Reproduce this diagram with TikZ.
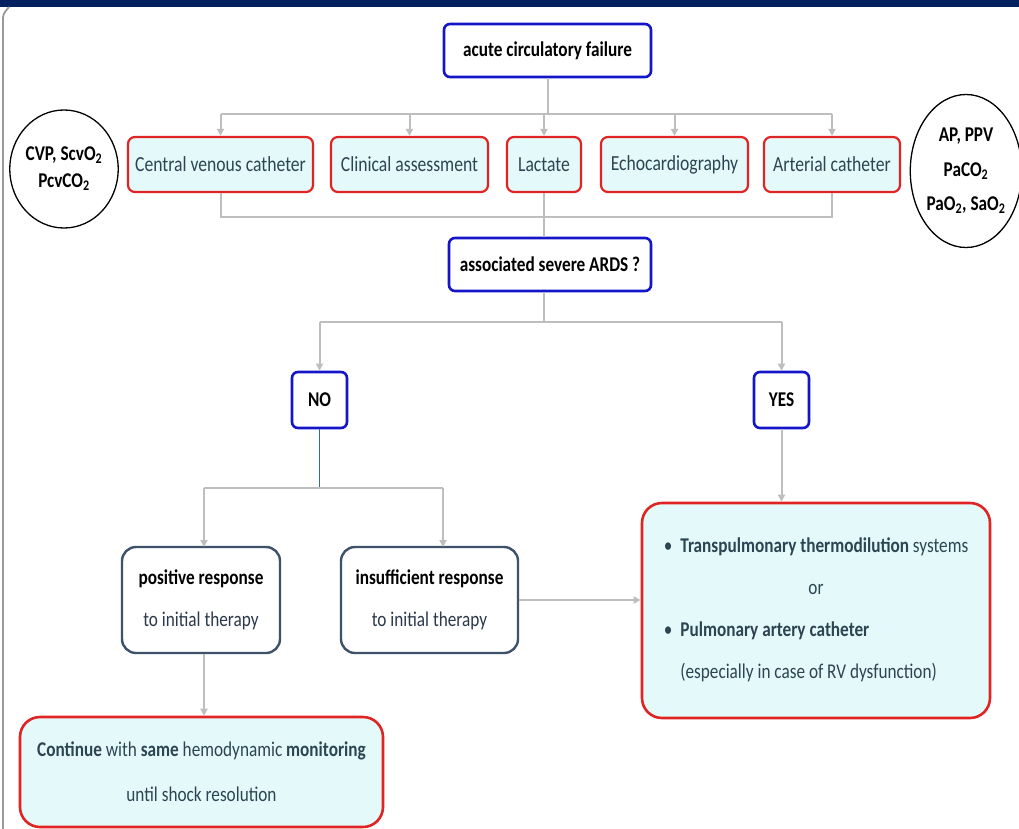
\documentclass[tikz,border=0pt]{standalone}
\usepackage{fontspec}
\setmainfont{Carlito}[FakeStretch=0.82]
\usetikzlibrary{shapes.geometric,arrows.meta,calc}
\definecolor{navy}{HTML}{002060}
\definecolor{bbox}{HTML}{1414C8}
\definecolor{rbox}{HTML}{E02424}
\definecolor{cfill}{HTML}{E4FAFA}
\definecolor{tealtxt}{HTML}{2C4552}
\definecolor{glines}{HTML}{BEBEBE}
\definecolor{slate}{HTML}{3E526A}
\definecolor{noline}{HTML}{2F6DB5}
\tikzset{
  bluebox/.style={draw=bbox, line width=2.6pt, fill=white, rounded corners=6pt, inner sep=0pt, font=\fontsize{21}{25}\selectfont\bfseries, text=black},
  redbox/.style={draw=rbox, line width=2.2pt, fill=cfill, rounded corners=7pt, inner sep=0pt, font=\fontsize{21.5}{25}\selectfont, text=tealtxt},
  bigred/.style={draw=rbox, line width=2.6pt, fill=cfill, rounded corners=20pt, inner sep=0pt, font=\fontsize{21}{25}\selectfont, text=tealtxt},
  slatebox/.style={draw=slate, line width=2.4pt, fill=white, rounded corners=14pt, inner sep=0pt, font=\fontsize{21}{25}\selectfont, text=black, align=center},
  oval/.style={draw=black, line width=1.3pt, ellipse, inner sep=0pt, fill=white, font=\fontsize{21}{24}\selectfont\bfseries, text=black, align=center},
  conn/.style={draw=glines, line width=2pt},
  arr/.style={conn, -{Triangle[width=7pt,length=7pt]}},
}
\begin{document}
\begin{tikzpicture}[x=1pt,y=-1pt]
\useasboundingbox (0,0) rectangle (1019,829);
\fill[white] (0,0) rectangle (1019,829);
\fill[navy] (0,0) rectangle (1019,7);
\draw[gray!80, line width=1.8pt] (3,829) -- (3,22) .. controls (3,14) .. (9,7);

% nodes
\node[bluebox, minimum width=207pt, minimum height=53pt] (acute) at (547.5,50.5) {acute circulatory failure};
\node[redbox, minimum width=185pt, minimum height=55pt] (cvc) at (220.5,164.5) {Central venous catheter};
\node[redbox, minimum width=157pt, minimum height=55pt] (clin) at (409.5,164.5) {Clinical assessment};
\node[redbox, minimum width=74pt, minimum height=55pt] (lact) at (544,164.5) {Lactate};
\node[redbox, minimum width=147pt, minimum height=55pt] (echo) at (674.5,164.5) {Echocardiography};
\node[redbox, minimum width=136pt, minimum height=55pt] (art) at (832,164.5) {Arterial catheter};
\node[oval, minimum width=104pt, minimum height=118pt] (lcirc) at (64,169) {CVP, ScvO\textsubscript{2}\\[3pt]PcvCO\textsubscript{2}};
\node[oval, minimum width=108pt, minimum height=153pt] (rcirc) at (966,171) {AP, PPV\\[11pt]PaCO\textsubscript{2}\\[10pt]PaO\textsubscript{2}, SaO\textsubscript{2}};
\node[bluebox, minimum width=202pt, minimum height=53pt] (ards) at (550,264.5) {associated severe ARDS ?};
\node[bluebox, minimum width=55pt, minimum height=56pt] (no) at (319.5,400) {NO};
\node[bluebox, minimum width=55pt, minimum height=56pt] (yes) at (781.5,400) {YES};
\node[slatebox, minimum width=158pt, minimum height=106pt] (pos) at (201,600) {\textbf{positive response}\\[17pt]\textcolor{slate!70!black}{to initial therapy}};
\node[slatebox, minimum width=177pt, minimum height=106pt] (insuf) at (429.5,600) {\textbf{insufficient response}\\[17pt]\textcolor{slate!70!black}{to initial therapy}};
\node[bigred, minimum width=348pt, minimum height=215pt] (transp) at (816,610.5) {\begin{tabular}{@{}c@{\hspace{8pt}}l@{}}
\textbullet & \textbf{Transpulmonary thermodilution} systems\\[17pt]
\multicolumn{2}{c}{or}\\[17pt]
\textbullet & \textbf{Pulmonary artery catheter}\\[17pt]
 & (especially in case of RV dysfunction)
\end{tabular}};
\node[bigred, minimum width=363pt, minimum height=110pt, align=center] (cont) at (201.5,772) {\textbf{Continue} with \textbf{same} hemodynamic \textbf{monitoring}\\[20pt]until shock resolution};

% connectors
\coordinate (bus1) at (545,114);
\coordinate (bus2) at (545,217);
\draw[conn] (acute.south) -- (acute.south |- bus1);
\draw[conn] (cvc.north |- bus1) -- (art.north |- bus1);
\foreach \n in {cvc,clin,lact,echo,art} \draw[arr] (\n.north |- bus1) -- (\n.north);
\draw[conn] (cvc.south) -- (cvc.south |- bus2) -- (art.south |- bus2) -- (art.south);
\draw[conn] (lact.south) -- (lact.south |- ards.north);

\coordinate (bus3) at (545,322);
\draw[conn] (ards.south -| lact.south) -- (lact.south |- bus3);
\draw[conn] (no.north |- bus3) -- (yes.north |- bus3);
\draw[arr] (no.north |- bus3) -- (no.north);
\draw[arr] (yes.north |- bus3) -- (yes.north);

\coordinate (bus4) at (320,488);
\coordinate (pin) at (204,547);
\coordinate (iin) at (443,547);
\draw[draw=noline, line width=1.6pt] (no.south) -- (no.south |- bus4);
\draw[conn] (pin |- bus4) -- (iin |- bus4);
\draw[arr] (pin |- bus4) -- (pin);
\draw[arr] (iin |- bus4) -- (iin);

\draw[arr] (yes.south) -- (yes.south |- transp.north);
\draw[arr] (insuf.east) -- (insuf.east -| transp.west);
\draw[arr] (pin |- pos.south) -- (pin |- cont.north);
\end{tikzpicture}
\end{document}
